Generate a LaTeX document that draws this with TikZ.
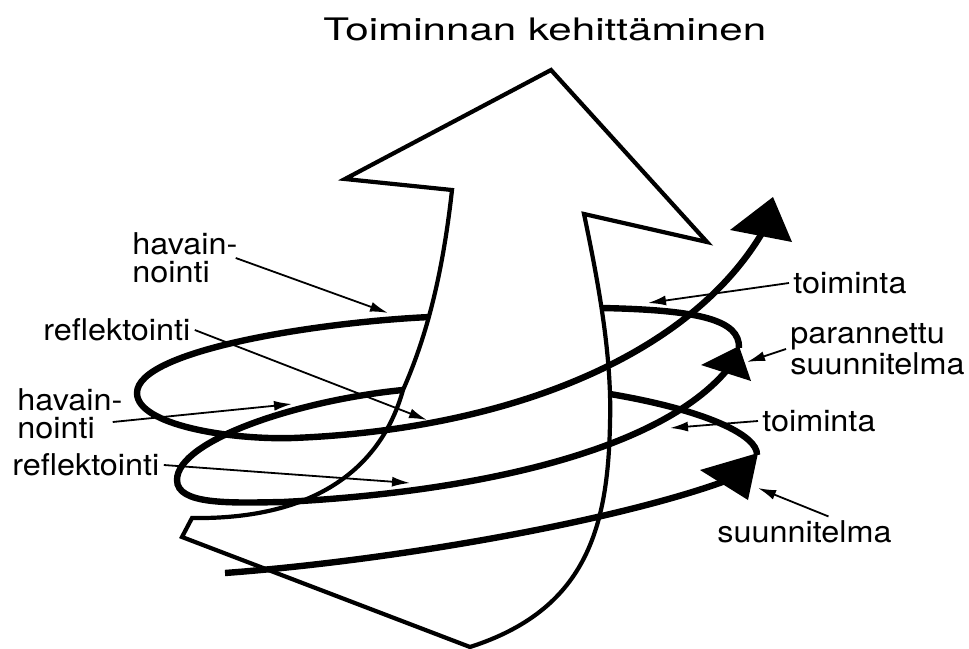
\documentclass[tikz,border=0pt]{standalone}
\usepackage{fontspec}
\setmainfont{TeX Gyre Heros}[FakeStretch=1.08]
\newfontfamily\titlefont{TeX Gyre Heros}[FakeStretch=1.36]
\usetikzlibrary{arrows.meta}

\begin{document}
\begin{tikzpicture}[
    x=0.5pt, y=-0.5pt,
    lbl/.style={inner sep=0pt, anchor=west, align=left,
      font=\fontsize{15}{14}\selectfont},
    lead/.style={-{Latex[length=9pt,width=5pt]}, line width=0.9pt},
    outline/.style={line width=2.1pt, line join=miter},
    spiral/.style={line width=3.2pt},
    head/.style={fill=black}
  ]
  \useasboundingbox (0,0) rectangle (969,648);
  \node[inner sep=0pt, anchor=base west,
    font=\titlefont\fontsize{15.5}{18}\selectfont] (title) at (323,40)
    {Toiminnan kehittäminen};

  % big arrow
  \draw[outline] (551,70) -- (707,242) -- (584,214)
    .. controls (600,290) and (612,360) .. (610,423)
    .. controls (608,530) and (585,610) .. (470,647)
    -- (182,537) -- (192,518)
    .. controls (330,520) and (385,455) .. (403,390)
    .. controls (425,340) and (442,280) .. (452,190)
    -- (345,179) -- cycle;

  % spiral, lowest lap
  \draw[spiral] (225,573) .. controls (400,560) and (620,520) .. (728,480);
  \fill[head] (700,470) -- (758,453) -- (748,500) -- cycle;
  \draw[spiral] (757,455) .. controls (758,435) and (705,410) .. (610,394);
  % middle lap
  \draw[spiral] (403,390) .. controls (300,400) and (177,440) .. (177,480)
    .. controls (177,505) and (230,503) .. (283,502)
    .. controls (480,492) and (660,450) .. (727,370);
  \fill[head] (701,365) -- (739,346) -- (751,381) -- cycle;
  \draw[spiral] (739,348) .. controls (740,320) and (700,310) .. (602,308);
  % top lap
  \draw[spiral] (430,317) .. controls (320,322) and (137,350) .. (137,393)
    .. controls (137,425) and (230,440) .. (293,438)
    .. controls (500,430) and (690,360) .. (765,228);
  \fill[head] (730,230) -- (773,197) -- (792,242) -- cycle;

  % labels
  \node[lbl] (hav1)  at (132,258) {havain-\\nointi};
  \node[lbl] (refl1) at (43,330)  {reflektointi};
  \node[lbl] (hav2)  at (17,414)  {havain-\\nointi};
  \node[lbl] (refl2) at (12,465)  {reflektointi};
  \node[lbl] (toim1) at (793,283) {toiminta};
  \node[lbl] (paran) at (790,349) {parannettu\\suunnitelma};
  \node[lbl] (toim2) at (762,421) {toiminta};
  \node[lbl] (suun)  at (717,532) {suunnitelma};

  \coordinate (hav1tip)  at (388,313);
  \coordinate (refl1tip) at (427,420);
  \coordinate (hav2tip)  at (292,404);
  \coordinate (refl2tip) at (410,483);
  \coordinate (toim1tip) at (648,303);
  \coordinate (parantip) at (747,362);
  \coordinate (toim2tip) at (670,428);
  \coordinate (suuntip)  at (758,488);

  \draw[lead] ([xshift=-1pt]hav1.east) -- (hav1tip);
  \draw[lead] ([xshift=2pt]refl1.east) -- (refl1tip);
  \draw[lead] ([xshift=-5pt,yshift=-4pt]hav2.east) -- (hav2tip);
  \draw[lead] ([xshift=2pt]refl2.east) -- (refl2tip);
  \draw[lead] ([xshift=-2pt]toim1.west) -- (toim1tip);
  \draw[lead] ([xshift=-2pt]paran.west) -- (parantip);
  \draw[lead] ([xshift=-2pt]toim2.west) -- (toim2tip);
  \draw[lead] ([xshift=12pt,yshift=2pt]suun.north) -- (suuntip);
\end{tikzpicture}
\end{document}
